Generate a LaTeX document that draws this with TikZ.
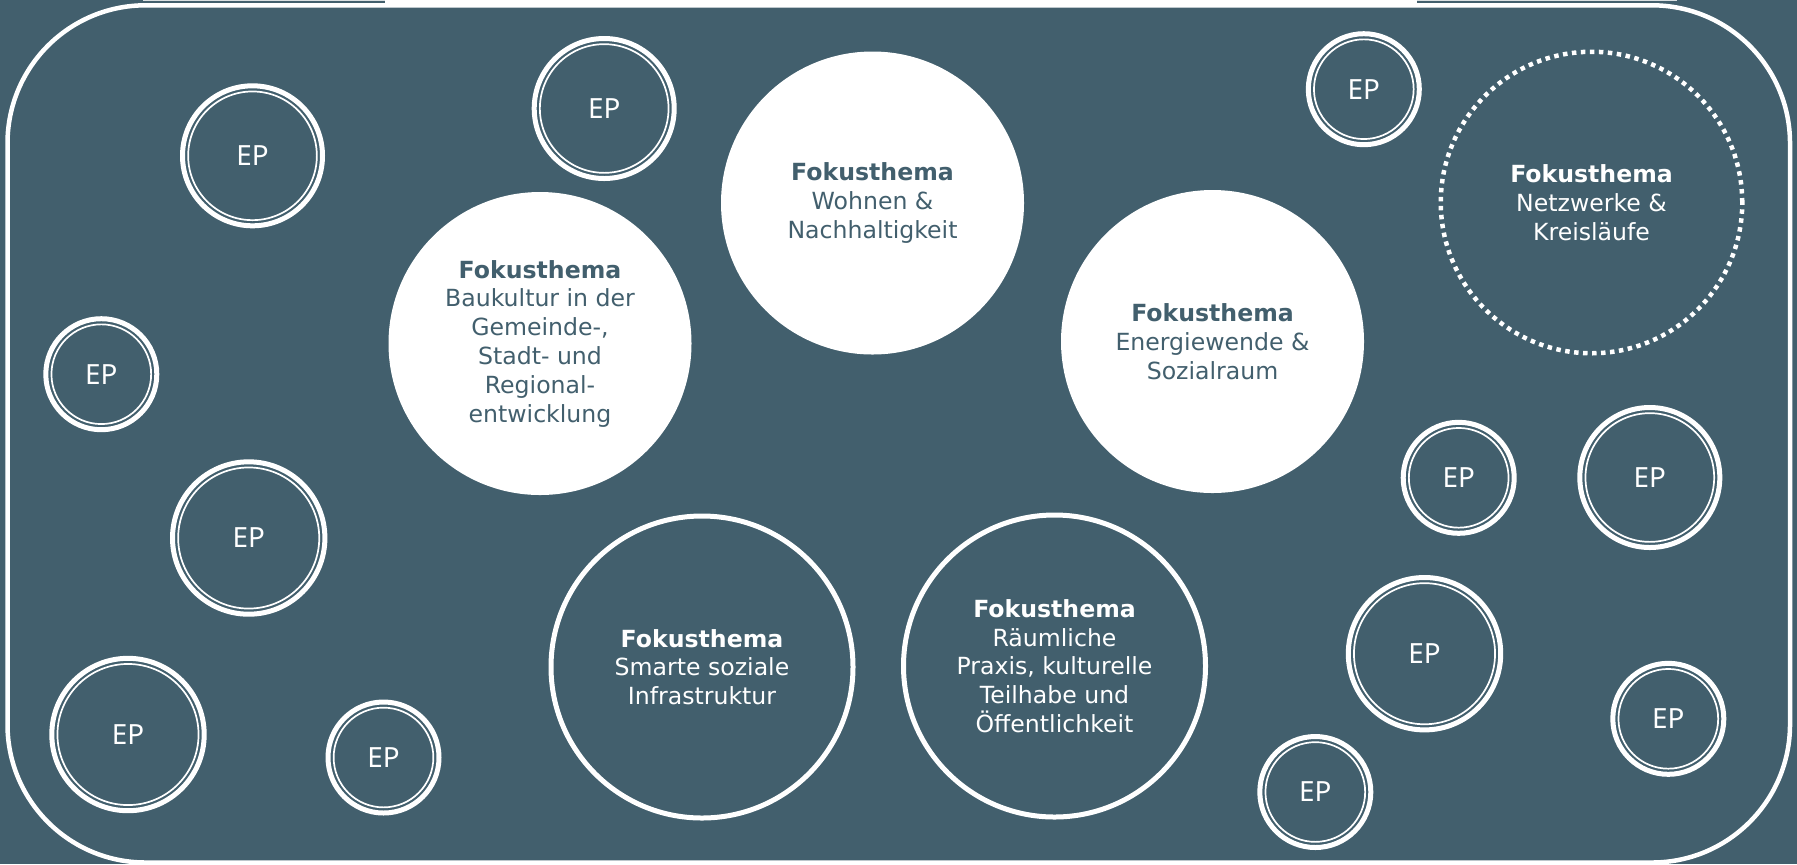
\documentclass[tikz,border=0pt]{standalone}
\usepackage{fontspec}
\setmainfont{DejaVu Sans}
\newfontfamily\epfont{Noto Sans}
\definecolor{slate}{RGB}{66,95,109}
\tikzset{
  fokusfill/.style={circle, fill=white, inner sep=0pt, minimum size=151.5pt,
    text=slate, align=center, font=\fontsize{11.8}{14.4}\selectfont},
  fokusline/.style={circle, draw=white, line width=2.5pt, inner sep=0pt, minimum size=151pt,
    text=white, align=center, font=\fontsize{11.8}{14.4}\selectfont},
  fokusdots/.style={circle, draw=white, line width=2.25pt, line cap=butt,
    dash pattern=on 2.25pt off 2.25pt, inner sep=0pt, minimum size=150.75pt,
    text=white, align=center, font=\fontsize{11.8}{14.4}\selectfont},
  epring/.style={circle, draw=white, line width=2.5pt, inner sep=0pt,
    text=white, font=\epfont\fontsize{13.9}{16}\selectfont},
  epinner/.style={draw=white, line width=0.85pt},
  frame/.style={draw=white, line width=2.25pt, rounded corners=69pt}
}
\newcommand\epcircle[4]{%
  \pgfmathsetmacro\epouter{#4-2.5}%
  \pgfmathsetmacro\epin{(#4-8.15)/2}%
  \node[epring, minimum size=\epouter pt] (#1) at (#2,#3) {EP};
  \draw[epinner] (#1.center) circle[radius=\epin pt];
}
\begin{document}
\begin{tikzpicture}[x=0.5pt,y=-0.5pt]
\fill[slate] (0,0) rectangle (1797,864);
\useasboundingbox (0,0) rectangle (1797,864);
\draw[frame] (7.5,5.3) rectangle (1790,862.5);
\fill[white] (385,0) rectangle (1417,6.7);
\fill[white, opacity=0.8] (143,0) rectangle (1677,1.3);

\node[fokusfill] (wohnen) at (872.5,203) {\textbf{Fokusthema}\\Wohnen \&\\Nachhaltigkeit};
\node[fokusfill] (baukultur) at (540,343.5) {\textbf{Fokusthema}\\Baukultur in der\\Gemeinde-,\\Stadt- und\\Regional-\\entwicklung};
\node[fokusfill] (energie) at (1212.5,341.5) {\textbf{Fokusthema}\\Energiewende \&\\Sozialraum};
\node[fokusdots] (netz) at (1591.5,202.5) {\textbf{Fokusthema}\\Netzwerke \&\\Kreisläufe};
\node[fokusline] (smart) at (702,667) {\textbf{Fokusthema}\\Smarte soziale\\Infrastruktur};
\node[fokusline] (raum) at (1054.5,666) {\textbf{Fokusthema}\\Räumliche\\Praxis, kulturelle\\Teilhabe und\\Öffentlichkeit};

\epcircle{ep1}{252.5}{155.8}{72.5}
\epcircle{ep2}{604.2}{108.5}{72.5}
\epcircle{ep3}{101.3}{374.2}{58}
\epcircle{ep4}{248.7}{538}{78.7}
\epcircle{ep5}{128}{734.5}{78.7}
\epcircle{ep6}{383.5}{757.5}{58}
\epcircle{ep7}{1363.8}{89.2}{58}
\epcircle{ep8}{1458.7}{477.8}{58}
\epcircle{ep9}{1649.8}{477.5}{72.5}
\epcircle{ep10}{1424.5}{653.7}{78.7}
\epcircle{ep11}{1668.3}{718.8}{58}
\epcircle{ep12}{1315.3}{792}{58}
\end{tikzpicture}
\end{document}
